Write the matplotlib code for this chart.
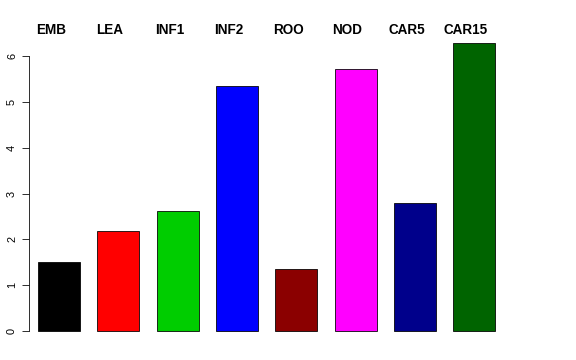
import matplotlib
matplotlib.use("Agg")
import matplotlib.pyplot as plt
import numpy as np

categories = ["EMB", "LEA", "INF1", "INF2", "ROO", "NOD", "CAR5", "CAR15"]
values = [1.50, 2.18, 2.62, 5.35, 1.35, 5.72, 2.79, 6.28]
colors = ["#000000", "#FF0000", "#00CD00", "#0000FF", "#8B0000", "#FF00FF", "#00008B", "#006400"]
yticks = [0, 1, 2, 3, 4, 5, 6]

plt.rcParams['font.family'] = ['Liberation Sans', 'DejaVu Sans']

fig = plt.figure(figsize=(8, 5), dpi=72)
ax = fig.add_axes([29/576, 1 - 342.5/360, (510 - 29)/576, (342.5 - 32)/360])

x = np.arange(len(categories))
ax.bar(x, values, width=0.71, color=colors, edgecolor="black", linewidth=0.8)

ax.set_xlim(-0.506, 7.6)
ax.set_ylim(-0.25, 6.53)

for s in ["top", "right", "bottom"]:
    ax.spines[s].set_visible(False)
ax.spines["left"].set_bounds(0, 6)
ax.spines["left"].set_linewidth(0.8)
ax.set_xticks([])
ax.set_yticks(yticks)
ax.set_yticklabels([str(t) for t in yticks], rotation=90, va="center", fontsize=11)
ax.tick_params(axis="y", length=7, width=0.8, pad=5)

for xi, lab in zip(x, categories):
    ax.text(xi - 0.14, 1.008, lab, transform=ax.get_xaxis_transform(),
            ha="center", va="center", fontsize=13.5, fontweight="bold")

fig.savefig("out.png", dpi=72)
